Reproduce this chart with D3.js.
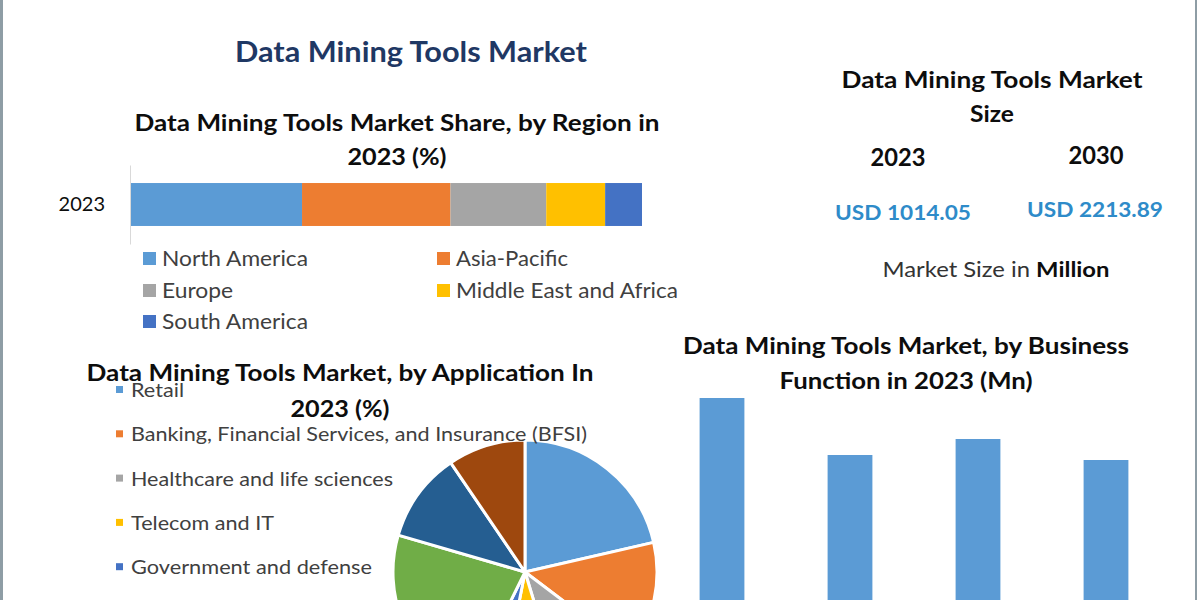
<!DOCTYPE html>
<html>
<head>
<meta charset="utf-8">
<script src="https://cdn.jsdelivr.net/npm/d3@7"></script>
<style>
  html, body { margin: 0; padding: 0; background: #ffffff; }
  svg { display: block; }
  text { font-family: Lato, "Open Sans", "DejaVu Sans", sans-serif; }
</style>
</head>
<body>
<svg id="chart" width="1200" height="600"></svg>
<script>
// ---------------- DATA ----------------
const mainTitle = "Data Mining Tools Market";

const regionTitle = ["Data Mining Tools Market Share, by Region in", "2023 (%)"];
const regionYears = ["2023"];
const regionCategories = ["North America", "Asia-Pacific", "Europe", "Middle East and Africa", "South America"];
const regionShare2023 = [33.6, 29.0, 18.7, 11.5, 7.2];

const sizeTitle = ["Data Mining Tools Market", "Size"];
const marketSizeYears = ["2023", "2030"];
const marketSizeValues = [1014.05, 2213.89];
const marketSizeUnitLabel = ["Market Size in ", "Million"];

const applicationTitle = ["Data Mining Tools Market, by Application In", "2023 (%)"];
const applicationCategories = [
  "Retail",
  "Banking, Financial Services, and Insurance (BFSI)",
  "Healthcare and life sciences",
  "Telecom and IT",
  "Government and defense",
  "Energy and utilities",
  "Manufacturing",
  "Others"
];
const applicationShare2023 = [21.4, 13.9, 10.0, 7.8, 4.2, 22.2, 11.0, 9.5];

const businessTitle = ["Data Mining Tools Market, by Business", "Function in 2023 (Mn)"];
const businessFunctions = ["Marketing", "Sales", "Operations", "Finance"];
const businessValues2023 = [293.5, 236.5, 252.5, 231.5];

// ---------------- STYLE ----------------
const officeColors = ["#5B9BD5", "#ED7D31", "#A5A5A5", "#FFC000", "#4472C4", "#70AD47", "#255E91", "#9E480E"];
const svg = d3.select("#chart");
const H = 600;

function txt(g, str, x, y, size, weight, fill, width, anchor) {
  const t = g.append("text")
    .attr("x", x).attr("y", y)
    .attr("font-size", size)
    .attr("font-weight", weight)
    .attr("fill", fill)
    .attr("text-anchor", anchor || "middle")
    .text(str);
  if (width) t.attr("textLength", width).attr("lengthAdjust", "spacingAndGlyphs");
  return t;
}

// frame
svg.append("rect").attr("x", 0).attr("y", 0).attr("width", 3).attr("height", 600).attr("fill", "#8e9da5");
svg.append("rect").attr("x", 1195).attr("y", 0).attr("width", 2).attr("height", 600).attr("fill", "#8e9da5");

// main title
txt(svg, mainTitle, 411, 62, 28, 700, "#1F3864", 352);

// ---------------- REGION STACKED BAR ----------------
const rg = svg.append("g");
txt(rg, regionTitle[0], 397, 131, 23, 700, "#0d0d0d", 525);
txt(rg, regionTitle[1], 397, 165, 23, 700, "#0d0d0d", 99);

const xR = d3.scaleLinear().domain([0, 100]).range([130, 642]);
const yR = d3.scaleBand().domain(regionYears).range([165, 244]).paddingInner(0).paddingOuter(0.42);

let cum = 0;
const stacked = regionShare2023.map((v, i) => { const d = { key: regionCategories[i], x0: cum, x1: cum + v, i }; cum += v; return d; });

rg.selectAll("rect.seg").data(stacked).join("rect")
  .attr("class", "seg")
  .attr("x", d => xR(d.x0))
  .attr("width", d => xR(d.x1) - xR(d.x0))
  .attr("y", yR("2023"))
  .attr("height", yR.bandwidth())
  .attr("fill", d => officeColors[d.i]);

const yAxisR = rg.append("g").attr("transform", "translate(130,0)")
  .call(d3.axisLeft(yR).tickSize(0).tickPadding(25));
yAxisR.select(".domain").attr("stroke", "#d9d9d9");
yAxisR.selectAll("text").attr("font-size", 20).attr("fill", "#0d0d0d")
  .attr("font-family", "Lato, sans-serif");

// region legend
const legR = rg.append("g");
regionCategories.forEach((name, i) => {
  const col = i % 2, row = Math.floor(i / 2);
  const lx = col === 0 ? 143 : 437;
  const ly = [266, 298, 329][row];
  legR.append("rect").attr("x", lx).attr("y", ly - 14).attr("width", 13).attr("height", 13).attr("fill", officeColors[i]);
  const w = [146, 112, 71, 222, 146][i];
  txt(legR, name, lx + 19, ly, 21, 400, "#404040", w, "start");
});

// ---------------- MARKET SIZE PANEL ----------------
const sg = svg.append("g");
txt(sg, sizeTitle[0], 992, 88, 23, 700, "#0d0d0d", 301);
txt(sg, sizeTitle[1], 992, 122, 23, 700, "#0d0d0d", 44);
const yearX = [898, 1096], yearY = [166, 164];
const valX = [903, 1095], valY = [220, 217];
const fmt = d3.format(".2f");
marketSizeYears.forEach((yr, i) => {
  txt(sg, yr, yearX[i], yearY[i], 24, 700, "#0d0d0d", 55);
  txt(sg, "USD " + fmt(marketSizeValues[i]), valX[i], valY[i], 21, 700, "#2E8BC9", 136);
});
const mt = sg.append("text").attr("x", 996).attr("y", 277).attr("text-anchor", "middle")
  .attr("font-size", 21).attr("fill", "#333333")
  .attr("textLength", 227).attr("lengthAdjust", "spacingAndGlyphs");
mt.append("tspan").attr("font-weight", 400).text(marketSizeUnitLabel[0]);
mt.append("tspan").attr("font-weight", 700).attr("fill", "#0d0d0d").text(marketSizeUnitLabel[1]);

// ---------------- APPLICATION PIE ----------------
const pg = svg.append("g");
const pie = d3.pie().sort(null).value(d => d)(applicationShare2023);
const arc = d3.arc().innerRadius(0).outerRadius(132);
pg.append("g").attr("transform", "translate(525,572)")
  .selectAll("path").data(pie).join("path")
  .attr("d", arc)
  .attr("fill", (d, i) => officeColors[i])
  .attr("stroke", "#ffffff").attr("stroke-width", 3).attr("stroke-linejoin", "round");

// legend: entries continue below the visible frame, only those inside it are drawn
const legA = pg.append("g");
const appW = [53, 456, 262, 143, 241];
applicationCategories.forEach((name, i) => {
  const by = 397 + i * 44.3;
  if (by > H - 4) return;
  legA.append("rect").attr("x", 116).attr("y", by - 11).attr("width", 7).attr("height", 7).attr("fill", officeColors[i]);
  txt(legA, name, 131, by, 19, 400, "#404040", appW[i], "start");
});
txt(pg, applicationTitle[0], 340, 381, 23, 700, "#0d0d0d", 507);
txt(pg, applicationTitle[1], 340, 417, 23, 700, "#0d0d0d", 99);

// ---------------- BUSINESS FUNCTION BARS ----------------
const bg = svg.append("g");
const xB = d3.scaleBand().domain(businessFunctions).range([658, 1170]).paddingInner(0.65).paddingOuter(0.325);
const yB = d3.scaleLinear().domain([0, 300]).range([691.5, 391.5]);
bg.selectAll("rect.bar").data(businessValues2023).join("rect")
  .attr("class", "bar")
  .attr("x", (d, i) => xB(businessFunctions[i]))
  .attr("width", xB.bandwidth())
  .attr("y", d => yB(d))
  .attr("height", d => yB(0) - yB(d))
  .attr("fill", "#5B9BD5");
txt(bg, businessTitle[0], 906, 354, 23, 700, "#0d0d0d", 446);
txt(bg, businessTitle[1], 906, 389, 23, 700, "#0d0d0d", 253);
</script>
</body>
</html>
